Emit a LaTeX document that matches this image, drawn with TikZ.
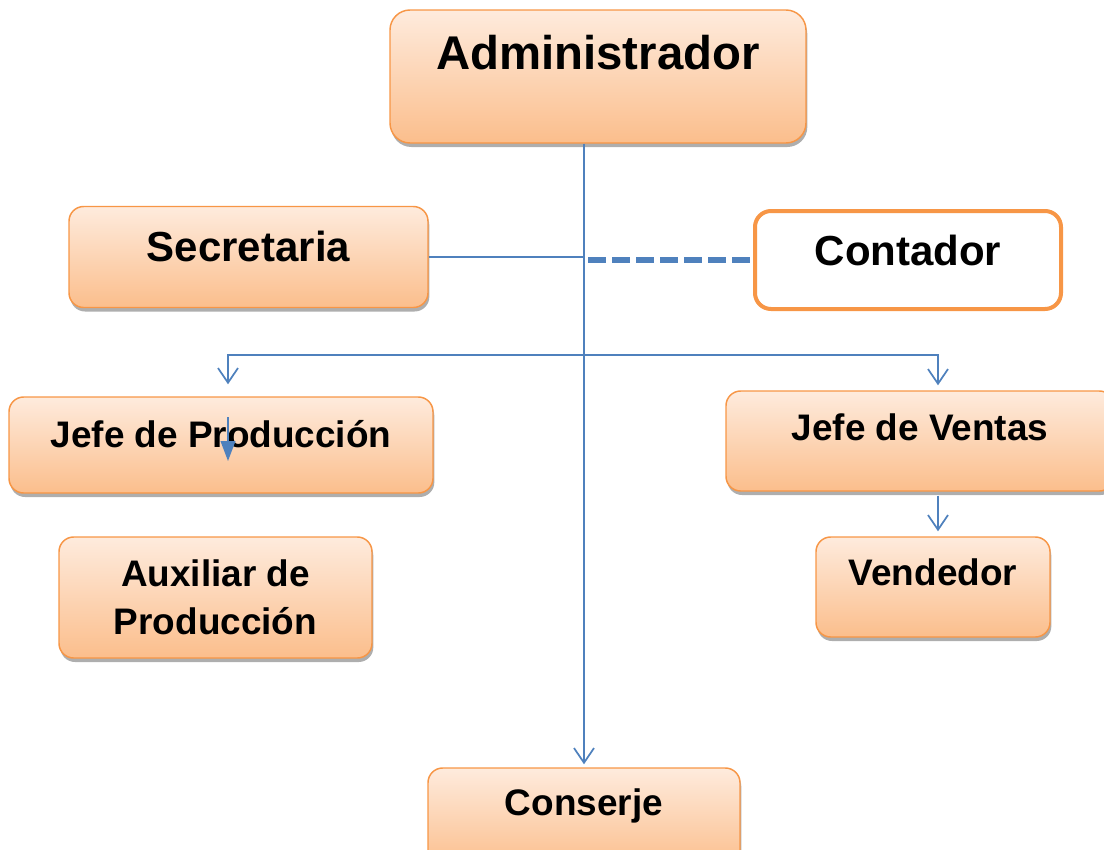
\documentclass[tikz,border=0pt]{standalone}
\usepackage{fontspec}
\setmainfont{Liberation Sans}
\usetikzlibrary{arrows.meta,shadows,calc}
\definecolor{boxtop}{RGB}{254,235,221}
\definecolor{boxbot}{RGB}{251,190,140}
\definecolor{boxline}{RGB}{247,150,70}
\definecolor{linkblue}{RGB}{79,129,189}

\begin{document}
\begin{tikzpicture}[
    x=0.75pt, y=-0.75pt,
    >={Straight Barb[length=11pt,width=15pt]},
    box/.style={draw=boxline, line width=1.1pt, rounded corners=11pt,
      top color=boxtop, bottom color=boxbot, inner sep=0pt, align=center,
      drop shadow={shadow xshift=1pt, shadow yshift=-3pt, fill=black!45, opacity=.7},
      font=\fontsize{27.7}{36}\selectfont\bfseries},
    openbox/.style={draw=boxline, line width=3pt, rounded corners=12pt,
      fill=white, inner sep=0pt, font=\fontsize{31.5}{36}\selectfont\bfseries},
    lift/.style={text height=14pt, text depth=#1},
    link/.style={draw=linkblue, line width=1.3pt},
  ]
  \useasboundingbox (0,0) rectangle (1104,850);
  \clip (0,0) rectangle (1104,850);

  \node[box, minimum width=312pt, minimum height=99.75pt, rounded corners=15pt,
    font=\fontsize{35.5}{40}\selectfont\bfseries, lift=23.8pt]
    (adm) at (598,76.5) {Administrador};
  \node[box, minimum width=269.25pt, minimum height=75.75pt,
    font=\fontsize{31.5}{36}\selectfont\bfseries, lift=7.2pt]
    (sec) at (248.5,257) {Secretaria};
  \node[openbox, minimum width=229.5pt, minimum height=73.5pt, lift=6.5pt]
    (con) at (908,260) {Contador};
  \node[box, minimum width=318pt, minimum height=72pt, lift=11pt]
    (jdp) at (221,445) {Jefe de Producción};
  \node[box, minimum width=291pt, minimum height=75pt, lift=15.5pt]
    (jdv) at (920,441) {Jefe de Ventas};
  \node[box, minimum width=175.5pt, minimum height=75pt, lift=17pt]
    (ven) at (933,587) {Vendedor};
  \node[box, minimum width=234.75pt, minimum height=90.75pt]
    (aux) at (215.5,597.5) {Auxiliar de\\Producción};
  \node[box, minimum width=234pt, minimum height=75pt, lift=18.5pt]
    (cons) at (584,818) {Conserje};

  \coordinate (fork) at (585,355);
  \draw[link, ->] (adm.south -| cons.north) -- ([yshift=2.25pt]cons.north);
  \draw[link] (sec.east) -- (sec.east -| cons.north);
  \draw[link, line width=4.5pt, dash pattern=on 13.5pt off 4.5pt]
    ([xshift=3pt]con.west -| cons.north) -- (con.west);
  \draw[link, <->] ([xshift=5.25pt,yshift=9pt]jdp.north) |- (fork)
    -| ([xshift=13.5pt,yshift=3.75pt]jdv.north);
  \draw[link, -{Triangle[length=15pt,width=11pt]}]
    ([xshift=5.25pt,yshift=21pt]jdp.center) -- ([xshift=5.25pt,yshift=-12pt]jdp.center);
  \draw[link, ->] ($(ven.north |- jdv.south)+(3.75pt,-3pt)$)
    -- ([xshift=3.75pt,yshift=3.75pt]ven.north);
\end{tikzpicture}
\end{document}
